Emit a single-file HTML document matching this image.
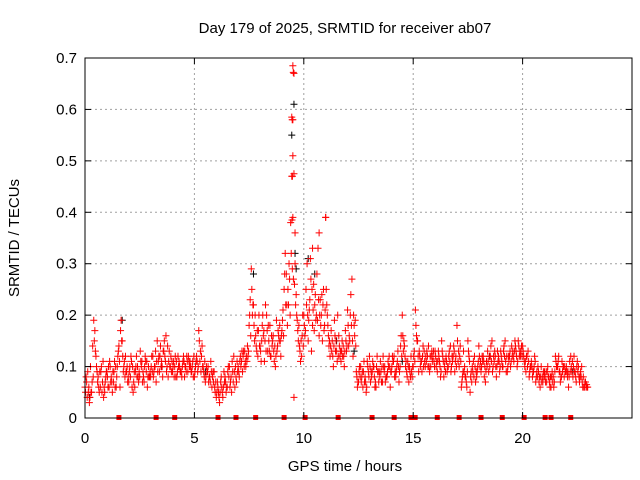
<!DOCTYPE html>
<html><head><meta charset="utf-8"><style>
body{margin:0;background:#fff}
svg{display:block;font-family:"Liberation Sans",sans-serif;font-size:15px}
</style></head><body>
<svg id="chart" width="640" height="480">
<text x="345" y="33" text-anchor="middle">Day 179 of 2025, SRMTID for receiver ab07</text>
<text x="345" y="471" text-anchor="middle">GPS time / hours</text>
<text transform="translate(19,238) rotate(-90)" text-anchor="middle">SRMTID / TECUs</text>
<g id="grid"></g><g id="marks"></g><g id="axes"></g>
</svg>
<script>
const red1 = [
.06,.04,.03,.05,.19,.12,.08,.06,.07,.05, .09,.06,.08,.07,.10,.12,.06,.15,.11,.09,
.07,.12,.05,.09,.10,.08,.11,.07,.09,.10, .08,.12,.10,.15,.09,.11,.13,.16,.08,.10,
.09,.10,.08,.11,.09,.12,.10,.09,.11,.10, .08,.12,.17,.09,.10,.07,.09,.08,.06,.09,
.04,.05,.07,.04,.08,.06,.10,.05,.12,.08, .10,.12,.09,.13,.11,.18,.29,.22,.16,.12,
.14,.18,.11,.20,.15,.12,.16,.10,.14,.18, .17,.25,.28,.22,.38,.58,.30,.19,.14,.12,
.20,.25,.15,.31,.18,.22,.28,.16,.20,.25, .39,.18,.12,.15,.19,.13,.16,.11,.14,.17,
.21,.15,.27,.18,.09,.07,.10,.06,.08,.11, .12,.08,.10,.06,.09,.11,.07,.10,.08,.12,
.09,.11,.08,.13,.10,.20,.14,.09,.07,.12, .10,.21,.15,.12,.09,.13,.11,.14,.10,.12,
.13,.09,.11,.15,.08,.12,.10,.14,.11,.09, .18,.10,.06,.13,.08,.15,.05,.10,.12,.08,
.14,.09,.12,.07,.13,.10,.15,.11,.08,.12, .13,.10,.15,.09,.12,.14,.11,.13,.15,.12,
.14,.10,.12,.08,.11,.09,.07,.10,.06,.08, .09,.07,.08,.06,.08,.12,.10,.09,.11,.08,
.10,.06,.12,.08,.09,.11,.07,.10,.06,.06];
const red2 = [
.08,.05,.10,.14,.17,.09,.05,.10,.04,.08, .06,.10,.05,.11,.08,.14,.19,.09,.12,.07,
.10,.06,.09,.12,.07,.11,.09,.12,.06,.08, .12,.09,.07,.11,.14,.08,.12,.10,.13,.09,
.11,.08,.12,.09,.10,.08,.12,.11,.09,.08, .10,.09,.11,.14,.08,.10,.07,.11,.09,.05,
.07,.03,.06,.09,.05,.10,.07,.09,.06,.11, .08,.11,.13,.10,.12,.23,.20,.15,.13,.20,
.11,.16,.22,.13,.18,.14,.11,.19,.16,.12, .21,.32,.18,.27,.47,.67,.24,.15,.11,.20,
.16,.30,.21,.13,.26,.19,.33,.23,.15,.18, .22,.14,.17,.10,.13,.20,.12,.15,.10,.13,
.14,.24,.12,.19,.06,.10,.08,.11,.05,.09, .07,.11,.06,.12,.09,.07,.10,.08,.11,.06,
.12,.08,.10,.07,.16,.13,.10,.11,.09,.08, .13,.16,.09,.11,.14,.10,.12,.09,.13,.11,
.10,.13,.08,.12,.11,.09,.13,.10,.14,.12, .11,.14,.08,.10,.06,.12,.09,.11,.07,.10,
.10,.12,.08,.11,.09,.14,.10,.12,.13,.09, .11,.14,.09,.12,.10,.13,.15,.10,.12,.14,
.12,.09,.13,.10,.08,.12,.09,.07,.10,.09, .07,.10,.06,.09,.07,.10,.12,.08,.10,.09,
.08,.11,.09,.12,.07,.10,.09,.06,.07,.06];
const red3 = [
.05,.09,.04,.07,.15,.10,.06,.09,.11,.07, .08,.11,.07,.09,.06,.13,.17,.12,.08,.10,
.09,.11,.07,.10,.08,.13,.07,.10,.11,.08, .10,.08,.13,.09,.12,.10,.15,.09,.11,.12,
.10,.12,.09,.10,.08,.11,.09,.12,.10,.11, .09,.11,.15,.12,.09,.08,.10,.07,.08,.06,
.05,.04,.08,.06,.07,.09,.06,.11,.09,.07, .09,.10,.12,.11,.14,.20,.25,.18,.14,.17,
.13,.20,.15,.17,.13,.16,.13,.12,.17,.15, .19,.28,.22,.30,.32,.27,.22,.17,.13,.16,
.18,.22,.19,.27,.21,.24,.19,.20,.24,.17, .25,.16,.14,.12,.16,.11,.14,.13,.12,.15,
.18,.20,.15,.16,.08,.09,.07,.09,.07,.10, .10,.09,.08,.10,.07,.09,.12,.07,.09,.10,
.10,.12,.09,.10,.14,.16,.12,.08,.10,.09, .12,.18,.12,.10,.12,.11,.13,.10,.12,.13,
.12,.11,.10,.13,.10,.11,.12,.09,.12,.11, .15,.12,.07,.09,.07,.13,.08,.09,.10,.09,
.12,.10,.11,.09,.11,.12,.09,.13,.10,.11, .12,.13,.11,.10,.13,.12,.13,.12,.14,.13,
.13,.11,.10,.09,.10,.10,.08,.09,.08,.07, .08,.09,.07,.08,.06,.11,.11,.07,.09,.10,
.09,.08,.10,.10,.08,.09,.08,.07,.06,.065];
const red4 = [
.07,.06,.05,.08,.13,.07,.09,.05,.06,.09, .10,.07,.09,.06,.10,.11,.15,.10,.09,.08,
.08,.10,.06,.08,.09,.10,.08,.11,.08,.09, .09,.10,.11,.12,.10,.13,.11,.14,.10,.11,
.08,.11,.10,.09,.11,.10,.11,.10,.09,.12, .11,.10,.13,.10,.11,.09,.08,.09,.07,.07,
.06,.05,.05,.07,.06,.08,.08,.07,.10,.09, .11,.13,.10,.12,.13,.16,.22,.20,.17,.14,
.15,.17,.13,.18,.12,.15,.14,.13,.15,.16, .16,.22,.25,.20,.29,.26,.20,.18,.15,.14,
.17,.20,.23,.25,.17,.20,.23,.18,.22,.21, .20,.15,.13,.14,.15,.12,.13,.12,.13,.14,
.16,.18,.20,.14,.07,.08,.09,.07,.06,.08, .09,.10,.07,.09,.08,.10,.09,.08,.10,.09,
.11,.09,.11,.09,.12,.15,.11,.10,.08,.10, .11,.15,.13,.11,.10,.12,.10,.12,.11,.10,
.11,.12,.09,.11,.09,.10,.11,.12,.13,.10, .13,.11,.09,.08,.09,.11,.07,.08,.09,.11,
.11,.11,.10,.10,.12,.11,.12,.10,.11,.10, .10,.12,.12,.11,.11,.12,.14,.11,.13,.12,
.11,.12,.11,.10,.09,.11,.08,.08,.07,.08, .09,.08,.08,.07,.09,.10,.09,.08,.10,.09,
.09,.09,.11,.09,.10,.08,.08,.08,.07,.06];
const spikeTimes = [9.5,9.52,9.45,9.47,9.5,9.55,9.48,9.46,9.5,9.55,9.6,11.0,10.7,10.4];
const spikeValues = [0.685,0.672,0.585,0.58,0.51,0.475,0.47,0.385,0.39,0.04,0.36,0.39,0.36,0.33];
const blackTimes = [0.2,1.7,7.7,9.55,9.45,9.6,9.65,10.2,10.5,11.5,12.3,3.5,5.5,14.5,18.5,22.3];
const blackValues = [0.04,0.19,0.28,0.61,0.55,0.32,0.29,0.31,0.28,0.15,0.13,0.10,0.09,0.11,0.12,0.09];
const zeroTimes = [1.55,3.25,4.1,6.08,6.9,7.8,9.1,10.06,11.57,13.12,14.13,14.9,15.09,16.1,17.1,18.1,19.07,20.07,21.03,21.3,22.2];
const xTicks = [0,5,10,15,20];
const yTicks = [0,0.1,0.2,0.3,0.4,0.5,0.6,0.7];

const L=85,R=632,T=58,B=418,XMAX=25,YMAX=0.7;
const xs=v=>L+v/XMAX*(R-L), ys=v=>B-v/YMAX*(B-T);
const NS="http://www.w3.org/2000/svg";
const grid=document.getElementById('grid'),marks=document.getElementById('marks'),axes=document.getElementById('axes');
function mk(tag,attrs,parent){const e=document.createElementNS(NS,tag);for(const k in attrs)e.setAttribute(k,attrs[k]);parent.appendChild(e);return e;}
yTicks.forEach(v=>{const y=ys(v);
 if(v>0&&v<YMAX){const g=mk('line',{x1:L,x2:R,y1:y,y2:y,stroke:'#a0a0a0','stroke-dasharray':'2,3'},grid);
 
 }
 const t=mk('text',{x:L-8,y:y+5,'text-anchor':'end'},axes);t.textContent=String(v);
 
 
 mk('line',{x1:L,x2:L+6,y1:y,y2:y,stroke:'#000'},axes);mk('line',{x1:R,x2:R-6,y1:y,y2:y,stroke:'#000'},axes);});
xTicks.forEach(v=>{const x=xs(v);
 if(v>0){const g=mk('line',{x1:x,x2:x,y1:T,y2:B,stroke:'#a0a0a0','stroke-dasharray':'2,3'},grid);
 
 }
 const t=mk('text',{x:x,y:B+25,'text-anchor':'middle'},axes);t.textContent=String(v);
 
 
 mk('line',{x1:x,x2:x,y1:B,y2:B-6,stroke:'#000'},axes);mk('line',{x1:x,x2:x,y1:T,y2:T+6,stroke:'#000'},axes);});
const frame=mk('rect',{x:L,y:T,width:R-L,height:B-T,fill:'none',stroke:'#000'},axes);


function plus(t,v,color,name){const x=xs(t),y=ys(v);
 const p=mk('path',{d:`M${x-3.5},${y}h7M${x},${y-3.5}v7`,stroke:color,'stroke-width':1,fill:'none'},marks);
 
 }
blackTimes.forEach((t,i)=>plus(t,blackValues[i],'#000','black-point'));
red1.forEach((v,i)=>plus(i*0.1,v,'#f00','red-point'));
red3.forEach((v,i)=>plus(i*0.1+0.025,v,'#f00','red-point'));
red2.forEach((v,i)=>plus(i*0.1+0.05,v,'#f00','red-point'));
red4.forEach((v,i)=>plus(i*0.1+0.075,v,'#f00','red-point'));
spikeTimes.forEach((t,i)=>plus(t,spikeValues[i],'#f00','spike-point'));
zeroTimes.forEach(t=>{const x=xs(t);
 const r=mk('rect',{x:x-2.5,y:B-3,width:5,height:5,fill:'#f00'},marks);
 
 });
</script>
</body></html>
